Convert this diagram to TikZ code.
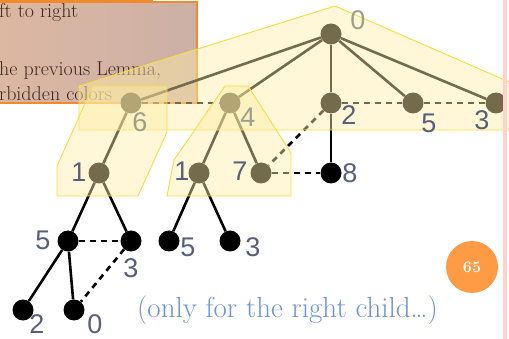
\documentclass[tikz,border=0pt]{standalone}
\usepackage{fontspec}
\setsansfont{Liberation Sans}
\usetikzlibrary{positioning}
\definecolor{polyfill}{HTML}{FFEEA7}
\definecolor{polyline}{HTML}{FADC40}
\definecolor{lblcol}{HTML}{56607A}
\definecolor{lblfade}{HTML}{9C9E8A}
\definecolor{boxleft}{HTML}{DDB8A2}
\definecolor{boxright}{HTML}{CCB0A6}
\definecolor{boxedge}{HTML}{F08A2C}
\definecolor{boxtext}{HTML}{3E2A1E}
\definecolor{notecol}{HTML}{6E93D6}
\definecolor{badge}{HTML}{FF9A45}
\definecolor{rulepink}{HTML}{FFD3CA}

\begin{document}
\begin{tikzpicture}[x=1pt,y=-1pt,
    vtx/.style={circle, fill=black, inner sep=0pt, minimum size=21pt},
    edge/.style={line width=2.6pt},
    back/.style={line width=2.6pt, dash pattern=on 6pt off 5pt},
    lbl/.style={font=\sffamily\fontsize{27}{30}\selectfont, text=lblcol, inner sep=0pt},
    fade/.style={lbl, text=lblfade},
    hull/.style={draw=polyline, line width=0.9pt, fill=polyfill, fill opacity=0.45},
    boxtxt/.style={anchor=base west, inner sep=0pt, text=boxtext, font=\fontsize{20}{24}\selectfont}
  ]
    \fill[white] (0,0) rectangle (509,339);
    \clip (0,0) rectangle (509,339);

    % note box, cut off at the left
    \fill[left color=boxleft, right color=boxright] (-10,2) rectangle (197,103);
    \draw[boxedge, line width=1.2pt] (-10,2) rectangle (197,103);
    \draw[boxedge, line width=4pt] (-10,0) -- (153,0);
    \node[boxtxt] (t1) at (-1,18)  {ft to right};
    \node[boxtxt] (t2) at (-1,76)  {he previous Lemma,};
    \node[boxtxt] (t3) at (-1,101) {rbidden colors};

    % tree
    \node[vtx] (r)  at (331,34)  {};
    \node[vtx] (c6) at (131,103) {};
    \node[vtx] (c4) at (230,103) {};
    \node[vtx] (c2) at (331,103) {};
    \node[vtx] (c5) at (413,103) {};
    \node[vtx] (c3) at (496,103) {};
    \node[vtx] (g1) at (99,173)  {};
    \node[vtx] (h1) at (199,173) {};
    \node[vtx] (h7) at (261,173) {};
    \node[vtx] (h8) at (331,173) {};
    \node[vtx] (g5) at (68,241)  {};
    \node[vtx] (g3) at (131,241) {};
    \node[vtx] (k5) at (169,241) {};
    \node[vtx] (k3) at (230,241) {};
    \node[vtx] (m2) at (23,310)  {};
    \node[vtx] (m0) at (74,310)  {};

    \foreach \a/\b in {r/c6,r/c4,r/c2,r/c5,r/c3,c6/g1,c4/h1,c4/h7,c2/h8,
                       g1/g5,g1/g3,h1/k5,h1/k3,g5/m2,g5/m0}
      \draw[edge] (\a) -- (\b);
    \foreach \a/\b in {c6/c4,c2/c5,c5/c3,c2/h7,h7/h8,g5/g3,g3/m0}
      \draw[back] (\a) -- (\b);

    % hulls
    \draw[hull] (79,86) -- (335,6) -- (530,91) -- (530,130) -- (79,130) -- cycle;
    \draw[hull] (93,86) -- (167,86) -- (167,132) -- (138,196) -- (57,196) -- (57,166) -- cycle;
    \draw[hull] (225,86) -- (248,86) -- (291,153) -- (291,196) -- (167,196) -- (174,160) -- cycle;

    % colours
    \node[fade] (l0)  at (358,20)  {0};
    \node[fade] (l6)  at (140,122) {6};
    \node[fade] (l4)  at (248,117) {4};
    \node[lbl]  (l2)  at (349,115) {2};
    \node[lbl]  (l5)  at (429,123) {5};
    \node[lbl]  (l3)  at (482,120) {3};
    \node[lbl]  (lg1) at (79,172)  {1};
    \node[lbl]  (lh1) at (182,171) {1};
    \node[lbl]  (lh7) at (240,171) {7};
    \node[lbl]  (lh8) at (350,173) {8};
    \node[lbl]  (lg5) at (43,240)  {5};
    \node[lbl]  (lg3) at (131,268) {3};
    \node[lbl]  (lk5) at (188,247) {5};
    \node[lbl]  (lk3) at (253,247) {3};
    \node[lbl]  (lm2) at (37,324)  {2};
    \node[lbl]  (lm0) at (95,324)  {0};

    \node[text=notecol, anchor=base west, inner sep=0pt, font=\fontsize{29}{33}\selectfont]
      (note) at (137,317) {(only for the right child\ldots)};

    \draw[rulepink, line width=4pt] (505,-5) -- (505,345);
    \node[circle, fill=badge, minimum size=52pt, inner sep=0pt, text=white,
      font=\bfseries\fontsize{16}{16}\selectfont] (page) at (472,267) {65};
  \end{tikzpicture}
\end{document}
